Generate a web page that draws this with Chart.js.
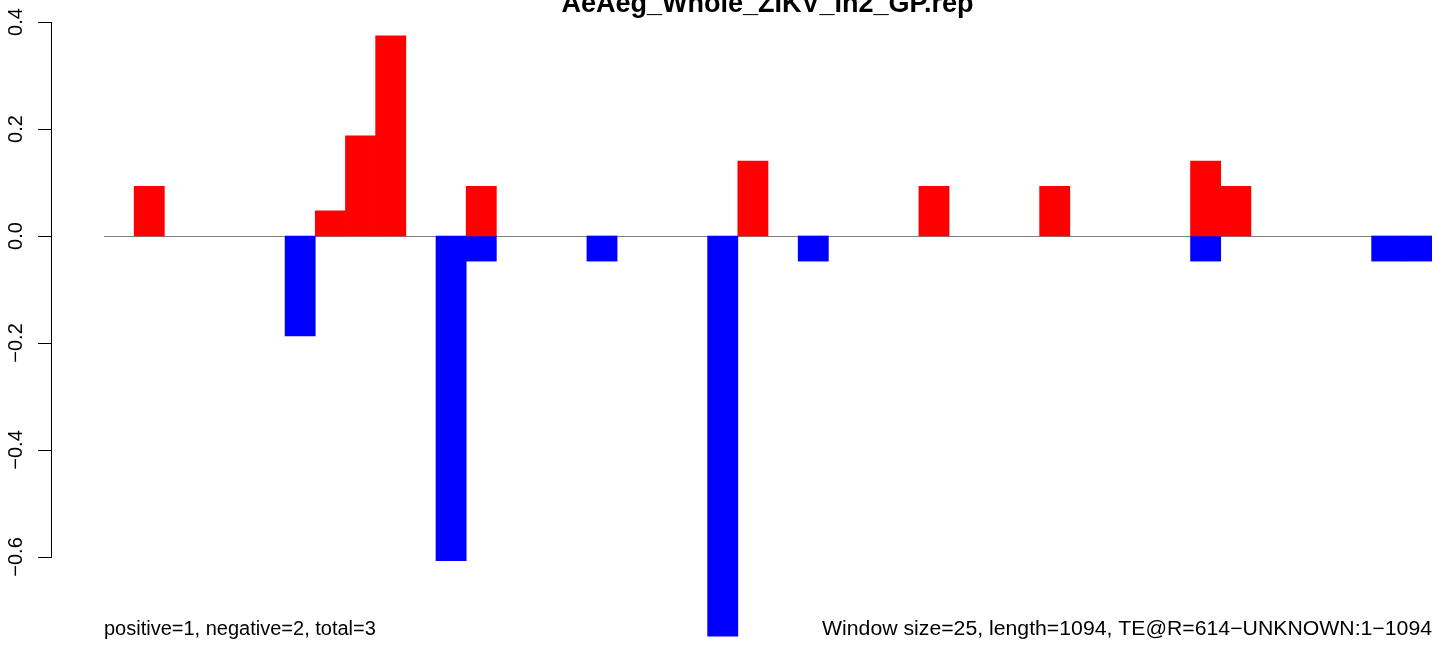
<!DOCTYPE html>
<html>
<head>
<meta charset="utf-8">
<title>AeAeg_Whole_ZIKV_In2_GP.rep</title>
<script src="https://cdn.jsdelivr.net/npm/chart.js@4"></script>
<style>
  html, body { margin: 0; padding: 0; background: #fff; }
  canvas { display: block; }
</style>
</head>
<body>
<canvas id="repChart" width="1444" height="646"></canvas>
<script>
// windows of 25 along a 1094 bp element
var windows = [1, 2, 3, 4, 5, 6, 7, 8, 9, 10, 11, 12, 13, 14, 15, 16, 17, 18, 19, 20, 21, 22,
  23, 24, 25, 26, 27, 28, 29, 30, 31, 32, 33, 34, 35, 36, 37, 38, 39, 40, 41, 42, 43, 44];

var positiveVals = [0, 0.093, 0, 0, 0, 0, 0, 0.047, 0.187, 0.374, 0, 0, 0.093, 0, 0, 0, 0, 0, 0, 0, 0, 0.14,
  0, 0, 0, 0, 0, 0.093, 0, 0, 0, 0.093, 0, 0, 0, 0, 0.14, 0.093, 0, 0, 0, 0, 0, 0];

var negativeVals = [0, 0, 0, 0, 0, 0, -0.187, 0, 0, 0, 0, -0.607, -0.047, 0, 0, 0, -0.047, 0, 0, 0, -0.748, 0,
  0, -0.047, 0, 0, 0, 0, 0, 0, 0, 0, 0, 0, 0, 0, -0.047, 0, 0, 0, 0, 0, -0.047, -0.047];

var yTicks = [0.4, 0.2, 0.0, -0.2, -0.4, -0.6];

var titleText = "AeAeg_Whole_ZIKV_In2_GP.rep";
var leftNote = "positive=1, negative=2, total=3";
var rightNote = "Window size=25, length=1094, TE@R=614\u2212UNKNOWN:1\u22121094";

var FONT = '"Liberation Sans", Arial, Helvetica, sans-serif';

function tickLabel(v) {
  var s = Math.abs(v).toFixed(1);
  return v < 0 ? "\u2212" + s : s;
}

// empty windows get no bar at all
function noZero(arr) {
  return arr.map(function (v) { return v === 0 ? null : v; });
}

// R style axis, zero line and margin texts
var rDecor = {
  id: "rDecor",
  beforeDatasetsDraw: function (chart) {
    var ctx = chart.ctx;
    var area = chart.chartArea;
    var y0 = Math.round(chart.scales.y.getPixelForValue(0)) + 0.5;
    ctx.save();
    ctx.strokeStyle = "#808080";
    ctx.lineWidth = 1;
    ctx.beginPath();
    ctx.moveTo(area.left, y0);
    ctx.lineTo(area.right, y0);
    ctx.stroke();
    ctx.restore();
  },
  afterDraw: function (chart) {
    var ctx = chart.ctx;
    var ys = chart.scales.y;
    var area = chart.chartArea;
    var axisX = 51;

    ctx.save();
    ctx.strokeStyle = "#000";
    ctx.lineWidth = 1;
    ctx.beginPath();
    ctx.moveTo(axisX + 0.5, Math.round(ys.getPixelForValue(yTicks[0])));
    ctx.lineTo(axisX + 0.5, Math.round(ys.getPixelForValue(yTicks[yTicks.length - 1])) + 1);
    yTicks.forEach(function (t) {
      var py = Math.round(ys.getPixelForValue(t)) + 0.5;
      ctx.moveTo(axisX + 0.5, py);
      ctx.lineTo(axisX - 13, py);
    });
    ctx.stroke();

    ctx.fillStyle = "#000";
    ctx.font = "20px " + FONT;
    ctx.textAlign = "center";
    ctx.textBaseline = "alphabetic";
    yTicks.forEach(function (t) {
      var py = ys.getPixelForValue(t);
      ctx.save();
      ctx.translate(22, py);
      ctx.rotate(-Math.PI / 2);
      ctx.fillText(tickLabel(t), 0, 0);
      ctx.restore();
    });

    // title, partly off the top edge as in the original plot
    ctx.font = "bold 27px " + FONT;
    ctx.textAlign = "center";
    ctx.fillText(titleText, 767.5, 12);

    ctx.font = "20px " + FONT;
    ctx.textAlign = "left";
    ctx.fillText(leftNote, area.left, 635);

    // the right note runs a little wider in the original
    var w = ctx.measureText(rightNote).width;
    var target = 610;
    ctx.save();
    ctx.translate(area.right, 635);
    ctx.scale(target / w, 1);
    ctx.textAlign = "right";
    ctx.fillText(rightNote, 0, 0);
    ctx.restore();
    ctx.restore();
  }
};

var ctx = document.getElementById("repChart").getContext("2d");
var repChart = new Chart(ctx, {
  type: "bar",
  data: {
    labels: windows,
    datasets: [
      {
        label: "positive",
        data: noZero(positiveVals),
        backgroundColor: "#FF0000",
        borderWidth: 0,
        barPercentage: 1,
        categoryPercentage: 1,
      },
      {
        label: "negative",
        data: noZero(negativeVals),
        backgroundColor: "#0000FF",
        borderWidth: 0,
        barPercentage: 1,
        categoryPercentage: 1,
      },
    ],
  },
  options: {
    responsive: false,
    animation: false,
    layout: {
      padding: { left: 104, right: 12, top: 0, bottom: 0 },
    },
    plugins: {
      legend: { display: false },
      tooltip: { enabled: false },
      title: { display: false },
    },
    scales: {
      x: {
        stacked: true,
        display: false,
        offset: true,
      },
      y: {
        stacked: true,
        display: false,
        min: -0.7664,
        max: 0.4411,
      },
    },
  },
  plugins: [rDecor],
});
</script>
</body>
</html>
